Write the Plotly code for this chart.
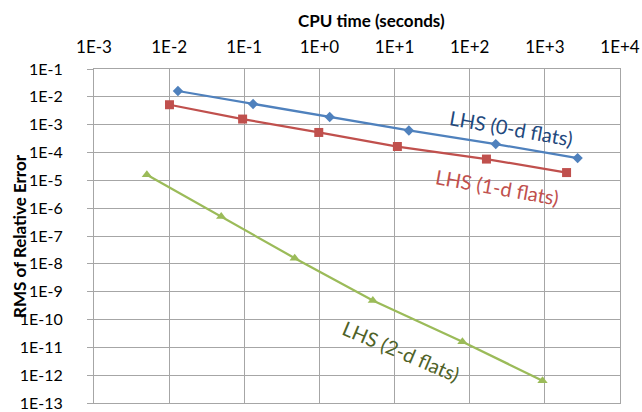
import plotly.graph_objects as go

# CPU time (s) and RMS of relative error for each LHS variant
cpu_0d = [0.0131, 0.131, 1.37, 15.5, 222, 2730]
err_0d = [1.62e-2, 5.5e-3, 1.88e-3, 6.2e-4, 2.0e-4, 6.3e-5]

cpu_1d = [0.0101, 0.095, 0.98, 10.9, 167, 1945]
err_1d = [5.2e-3, 1.59e-3, 5.25e-4, 1.64e-4, 5.8e-5, 1.9e-5]

cpu_2d = [0.00505, 0.0493, 0.469, 5.14, 80, 931]
err_2d = [1.59e-5, 5.0e-7, 1.6e-8, 4.8e-10, 1.6e-11, 6.3e-13]

x_tickvals = [10.0 ** k for k in range(-3, 5)]
x_ticktext = ["1E-3", "1E-2", "1E-1", "1E+0", "1E+1", "1E+2", "1E+3", "1E+4"]
y_tickvals = [10.0 ** k for k in range(-1, -14, -1)]
y_ticktext = ["1E-%d" % k for k in range(1, 14)]

FONT = "Lato, Open Sans, sans-serif"
GRID = "#A6A6A6"

fig = go.Figure()
fig.add_trace(go.Scatter(
    x=cpu_0d, y=err_0d, mode="lines+markers", name="LHS (0-d flats)",
    line=dict(color="#4F81BD", width=2.25),
    marker=dict(symbol="diamond", size=8, color="#4F81BD"),
))
fig.add_trace(go.Scatter(
    x=cpu_1d, y=err_1d, mode="lines+markers", name="LHS (1-d flats)",
    line=dict(color="#C0504D", width=2.25),
    marker=dict(symbol="square", size=9, color="#C0504D"),
))
fig.add_trace(go.Scatter(
    x=cpu_2d, y=err_2d, mode="lines+markers", name="LHS (2-d flats)",
    line=dict(color="#9BBB59", width=2.25),
    marker=dict(symbol="triangle-up", size=9, color="#9BBB59"),
))

annotations = [
    dict(text="<b>CPU time (seconds)</b>", x=0.527, y=1, xref="paper", yref="paper",
         xanchor="center", yanchor="middle", yshift=49, showarrow=False,
         font=dict(size=17, color="#000000", family=FONT)),
    dict(text="<b>RMS of Relative Error</b>", x=0, y=0.5, xref="paper", yref="paper",
         xanchor="center", yanchor="middle", xshift=-75, textangle=-90, showarrow=False,
         font=dict(size=17, color="#000000", family=FONT)),
    dict(text="LHS (0-d flats)", x=2.56, y=-3.11, xref="x", yref="y", showarrow=False,
         textangle=10, font=dict(size=20, color="#1F497D", family=FONT)),
    dict(text="LHS (1-d flats)", x=2.37, y=-5.23, xref="x", yref="y", showarrow=False,
         textangle=10, font=dict(size=20, color="#C0504D", family=FONT)),
    dict(text="LHS (2-d flats)", x=1.09, y=-11.13, xref="x", yref="y", showarrow=False,
         textangle=23, font=dict(size=20, color="#4F6228", family=FONT)),
]

fig.update_layout(
    width=642, height=412,
    margin=dict(l=94, r=22, t=69, b=9),
    paper_bgcolor="white", plot_bgcolor="white",
    showlegend=False,
    font=dict(family=FONT, size=16, color="#000000"),
    annotations=annotations,
    xaxis=dict(
        type="log", side="top", range=[-3, 4],
        tickvals=x_tickvals, ticktext=x_ticktext, tickfont=dict(size=17),
        showgrid=True, gridcolor=GRID, gridwidth=1,
        showline=True, linecolor=GRID, linewidth=1, mirror=True,
        ticks="", ticklabelstandoff=8, zeroline=False, automargin=False,
        ticklabeloverflow="allow",
    ),
    yaxis=dict(
        type="log", range=[-13, -1],
        tickvals=y_tickvals, ticktext=y_ticktext,
        showgrid=True, gridcolor=GRID, gridwidth=1,
        showline=True, linecolor=GRID, linewidth=1, mirror=True,
        ticks="outside", ticklen=6, tickcolor=GRID,
        ticklabelstandoff=21, zeroline=False, automargin=False,
        ticklabeloverflow="allow",
    ),
)

fig.write_html("out.html")
